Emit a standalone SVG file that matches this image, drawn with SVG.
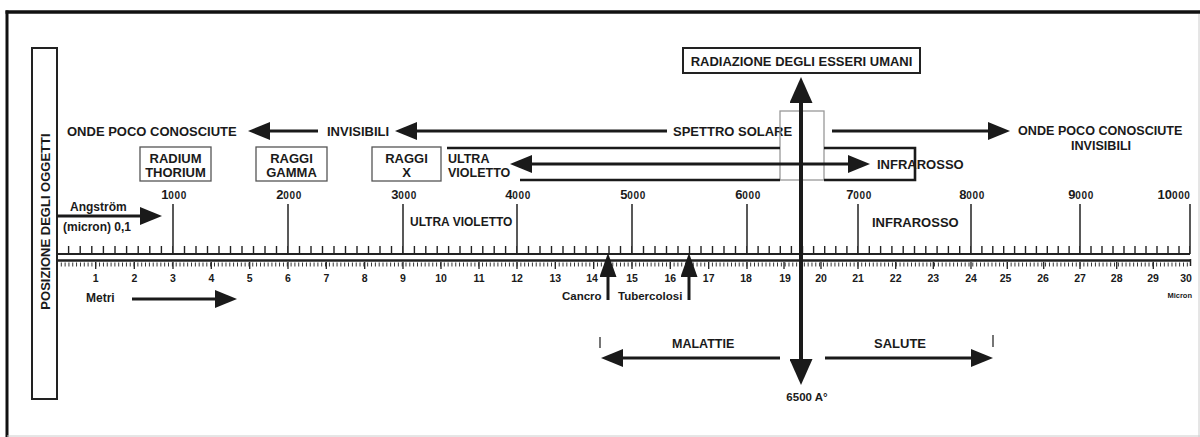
<svg xmlns="http://www.w3.org/2000/svg" width="1200" height="437" viewBox="0 0 1200 437">
<style>
text{font-family:"Liberation Sans",Arial,sans-serif;font-weight:bold;fill:#1a1a1a}
.t13{font-size:13px}
.t12{font-size:12px}
.num{font-size:10.5px;text-anchor:middle}
.big{font-size:13px;text-anchor:middle}
.c{text-anchor:middle}
.conn line,.conn path{stroke:#1a1a1a;fill:none}
.box{fill:none;stroke:#555;stroke-width:1.3}
.tick line{stroke:#222}
</style>
<defs>
<marker id="ah" markerUnits="userSpaceOnUse" markerWidth="22" markerHeight="18" refX="4" refY="9" orient="auto-start-reverse"><path d="M0,0 L22,9 L0,18 z" fill="#1a1a1a"/></marker>
<marker id="ahb" markerUnits="userSpaceOnUse" markerWidth="26" markerHeight="23" refX="4" refY="11.5" orient="auto-start-reverse"><path d="M0,0 L26,11.5 L0,23 z" fill="#1a1a1a"/></marker>
<marker id="ahs" markerUnits="userSpaceOnUse" markerWidth="24" markerHeight="17" refX="4" refY="8.5" orient="auto-start-reverse"><path d="M0,0 L24,8.5 L0,17 z" fill="#1a1a1a"/></marker>
</defs>
<rect width="1200" height="437" fill="#fff"/>
<!-- frame -->
<line x1="5.5" y1="12" x2="1200" y2="12" stroke="#111" stroke-width="3.5"/>
<line x1="7" y1="10.5" x2="7" y2="437" stroke="#111" stroke-width="3"/>
<line x1="1199" y1="14" x2="1199" y2="437" stroke="#ccc" stroke-width="1"/>
<line x1="7" y1="436" x2="1200" y2="436" stroke="#ccc" stroke-width="1"/>

<g id="posizione">
<rect x="32" y="48" width="25" height="351" fill="none" stroke="#222" stroke-width="2"/>
<text class="t13" text-anchor="middle" transform="translate(49.5,221.5) rotate(-90)">POSIZIONE DEGLI OGGETTI</text>
</g>

<!-- ruler -->
<g id="ruler" class="tick">
<line x1="57" y1="254" x2="1190" y2="254" stroke-width="1.8"/>
<line x1="57" y1="260.5" x2="1191" y2="260.5" stroke-width="2.6"/>
<line x1="1190.5" y1="259" x2="1190.5" y2="266" stroke-width="1.5"/>
<line x1="57" y1="264.5" x2="1190" y2="264.5" stroke-width="4" stroke-dasharray="0.9 2.93" stroke="#444"/>
<g stroke-width="7">
<line x1="67.9" y1="249.5" x2="173" y2="249.5" stroke-dasharray="1.4 10.2"/>
<line x1="183.8" y1="249.5" x2="288" y2="249.5" stroke-dasharray="1.4 10.1"/>
<line x1="298.8" y1="249.5" x2="403" y2="249.5" stroke-dasharray="1.4 10.1"/>
<line x1="413.7" y1="249.5" x2="517" y2="249.5" stroke-dasharray="1.4 10"/>
<line x1="527.8" y1="249.5" x2="632" y2="249.5" stroke-dasharray="1.4 10.1"/>
<line x1="642.8" y1="249.5" x2="747" y2="249.5" stroke-dasharray="1.4 10.1"/>
<line x1="757.4" y1="249.5" x2="858" y2="249.5" stroke-dasharray="1.4 9.7"/>
<line x1="868.6" y1="249.5" x2="971" y2="249.5" stroke-dasharray="1.4 9.9"/>
<line x1="981.2" y1="249.5" x2="1080" y2="249.5" stroke-dasharray="1.4 9.5"/>
<line x1="1090.3" y1="249.5" x2="1190" y2="249.5" stroke-dasharray="1.4 9.6"/>
</g>
<g stroke-width="1.5">
<line x1="173" y1="204" x2="173" y2="254"/>
<line x1="288" y1="204" x2="288" y2="254"/>
<line x1="403" y1="204" x2="403" y2="254"/>
<line x1="517" y1="204" x2="517" y2="254"/>
<line x1="632" y1="204" x2="632" y2="254"/>
<line x1="747" y1="204" x2="747" y2="254"/>
<line x1="858" y1="204" x2="858" y2="254"/>
<line x1="971" y1="204" x2="971" y2="254"/>
<line x1="1080" y1="204" x2="1080" y2="254"/>
<line x1="1190" y1="204" x2="1190" y2="254"/>
</g>
<g stroke-width="1.3">
<line x1="95.7" y1="262" x2="95.7" y2="269"/><line x1="134.3" y1="262" x2="134.3" y2="269"/><line x1="173" y1="262" x2="173" y2="269"/>
<line x1="211.3" y1="262" x2="211.3" y2="269"/><line x1="249.7" y1="262" x2="249.7" y2="269"/><line x1="288" y1="262" x2="288" y2="269"/>
<line x1="326.3" y1="262" x2="326.3" y2="269"/><line x1="364.7" y1="262" x2="364.7" y2="269"/><line x1="403" y1="262" x2="403" y2="269"/>
<line x1="441" y1="262" x2="441" y2="269"/><line x1="479" y1="262" x2="479" y2="269"/><line x1="517" y1="262" x2="517" y2="269"/>
<line x1="555.3" y1="262" x2="555.3" y2="269"/><line x1="593.7" y1="262" x2="593.7" y2="269"/><line x1="632" y1="262" x2="632" y2="269"/>
<line x1="670.3" y1="262" x2="670.3" y2="269"/><line x1="708.7" y1="262" x2="708.7" y2="269"/><line x1="747" y1="262" x2="747" y2="269"/>
<line x1="784" y1="262" x2="784" y2="269"/><line x1="821" y1="262" x2="821" y2="269"/><line x1="858" y1="262" x2="858" y2="269"/>
<line x1="895.7" y1="262" x2="895.7" y2="269"/><line x1="933.3" y1="262" x2="933.3" y2="269"/><line x1="971" y1="262" x2="971" y2="269"/>
<line x1="1007.3" y1="262" x2="1007.3" y2="269"/><line x1="1043.7" y1="262" x2="1043.7" y2="269"/><line x1="1080" y1="262" x2="1080" y2="269"/>
<line x1="1116.7" y1="262" x2="1116.7" y2="269"/><line x1="1153.3" y1="262" x2="1153.3" y2="269"/>
</g>
</g>

<g id="angstrom-scale">
<text class="big" x="174" y="199">1<tspan font-size="10" letter-spacing="0.6">000</tspan></text>
<text class="big" x="289" y="199">2<tspan font-size="10" letter-spacing="0.6">000</tspan></text>
<text class="big" x="404" y="199">3<tspan font-size="10" letter-spacing="0.6">000</tspan></text>
<text class="big" x="518" y="199">4<tspan font-size="10" letter-spacing="0.6">000</tspan></text>
<text class="big" x="633" y="199">5<tspan font-size="10" letter-spacing="0.6">000</tspan></text>
<text class="big" x="748" y="199">6<tspan font-size="10" letter-spacing="0.6">000</tspan></text>
<text class="big" x="859" y="199">7<tspan font-size="10" letter-spacing="0.6">000</tspan></text>
<text class="big" x="972" y="199">8<tspan font-size="10" letter-spacing="0.6">000</tspan></text>
<text class="big" x="1081" y="199">9<tspan font-size="10" letter-spacing="0.6">000</tspan></text>
<text class="big" x="1174" y="199">10<tspan font-size="10" letter-spacing="0.6">000</tspan></text>
</g>

<g id="metri-scale">
<text class="num" x="95.7" y="282">1</text><text class="num" x="134.3" y="282">2</text><text class="num" x="173" y="282">3</text>
<text class="num" x="211.3" y="282">4</text><text class="num" x="249.7" y="282">5</text><text class="num" x="288" y="282">6</text>
<text class="num" x="326.3" y="282">7</text><text class="num" x="364.7" y="282">8</text><text class="num" x="403" y="282">9</text>
<text class="num" x="441" y="282">10</text><text class="num" x="479" y="282">11</text><text class="num" x="517" y="282">12</text>
<text class="num" x="555.3" y="282">13</text><text class="num" x="592" y="282">14</text><text class="num" x="632" y="282">15</text>
<text class="num" x="670.3" y="282">16</text><text class="num" x="708.7" y="282">17</text><text class="num" x="746" y="282">18</text>
<text class="num" x="785" y="282">19</text><text class="num" x="821" y="282">20</text><text class="num" x="858" y="282">21</text>
<text class="num" x="895.7" y="282">22</text><text class="num" x="933.3" y="282">23</text><text class="num" x="971" y="282">24</text>
<text class="num" x="1005.5" y="282">25</text><text class="num" x="1043" y="282">26</text><text class="num" x="1080" y="282">27</text>
<text class="num" x="1116.7" y="282">28</text><text class="num" x="1153" y="282">29</text><text class="num" x="1186" y="282">30</text>
<text x="1192" y="298" font-size="7.5" text-anchor="end">Micron</text>
</g>

<g id="radiazione">
<rect x="683" y="48" width="237" height="25" fill="none" stroke="#222" stroke-width="2"/>
<text class="t13 c" x="801.5" y="66">RADIAZIONE DEGLI ESSERI UMANI</text>
</g>

<g id="onde-sx"><text class="t13" x="67" y="136">ONDE POCO CONOSCIUTE</text></g>
<g id="invisibili"><text class="t13" x="327" y="136">INVISIBILI</text></g>
<g id="spettro"><text class="t13" x="673" y="136">SPETTRO SOLARE</text></g>
<g id="onde-dx">
<text x="1018" y="135" font-size="12.6">ONDE POCO CONOSCIUTE</text>
<text class="c" x="1101" y="150" font-size="12.6">INVISIBILI</text>
</g>

<g id="radium">
<rect class="box" x="140" y="147" width="71" height="34"/>
<text class="t13 c" x="175.5" y="163">RADIUM</text>
<text class="t13 c" x="175.5" y="177">THORIUM</text>
</g>
<g id="gamma">
<rect class="box" x="256" y="147" width="71" height="34"/>
<text class="t13 c" x="291.5" y="163">RAGGI</text>
<text class="t13 c" x="291.5" y="177">GAMMA</text>
</g>
<g id="raggix">
<rect class="box" x="372" y="147" width="69" height="34"/>
<text class="t13 c" x="406.5" y="163">RAGGI</text>
<text class="t13 c" x="406.5" y="177">X</text>
</g>

<g id="uv-top">
<text x="448" y="163" font-size="12.5">ULTRA</text>
<text x="448" y="177" font-size="12.5">VIOLETTO</text>
</g>
<g id="ir-top"><text class="t13" x="877" y="169">INFRAROSSO</text></g>
<g id="visibile"><rect x="780" y="111" width="44" height="69" fill="none" stroke="#999" stroke-width="1.3"/></g>

<g id="uv-low"><text class="t12" x="410" y="226">ULTRA VIOLETTO</text></g>
<g id="ir-low"><text class="t13" x="872" y="227">INFRAROSSO</text></g>

<g id="angstrom-label">
<text class="t12" x="70" y="211">Angström</text>
<text class="t12" x="63" y="231">(micron) 0,1</text>
</g>
<g id="metri-label"><text class="t12" x="86" y="302">Metri</text></g>
<g id="cancro"><text x="562" y="300" font-size="11.5">Cancro</text></g>
<g id="tubercolosi"><text x="618" y="300" font-size="11.5">Tubercolosi</text></g>
<g id="malattie"><text x="672" y="348" font-size="12.5">MALATTIE</text></g>
<g id="salute"><text class="t13" x="874" y="348">SALUTE</text></g>
<g id="lambda"><text class="c" x="807" y="401" font-size="11.5">6500 A°</text></g>

<g id="connectors" class="conn">
<line x1="318" y1="131" x2="266" y2="131" stroke-width="3" marker-end="url(#ah)"/>
<line x1="667" y1="131" x2="413" y2="131" stroke-width="3" marker-end="url(#ah)"/>
<line x1="832" y1="131" x2="992" y2="131" stroke-width="3" marker-end="url(#ah)"/>
<line x1="528" y1="164" x2="852" y2="164" stroke-width="3" marker-start="url(#ah)" marker-end="url(#ah)"/>
<path d="M447,148 H780 M520,180 H780" stroke-width="2.6"/>
<path d="M824,148 H915 V180 H824" stroke-width="2.6"/>
<line x1="801" y1="99" x2="801" y2="363" stroke-width="4" marker-start="url(#ahb)" marker-end="url(#ahb)"/>
<line x1="57" y1="216" x2="144" y2="216" stroke-width="3" marker-end="url(#ah)"/>
<line x1="132" y1="299" x2="219" y2="299" stroke-width="3" marker-end="url(#ah)"/>
<line x1="608" y1="300" x2="608" y2="273" stroke-width="3" marker-end="url(#ahs)"/>
<line x1="689" y1="300" x2="689" y2="273" stroke-width="3" marker-end="url(#ahs)"/>
<line x1="780" y1="358" x2="619" y2="358" stroke-width="3" marker-end="url(#ah)"/>
<line x1="825" y1="358" x2="975" y2="358" stroke-width="3" marker-end="url(#ah)"/>
<line x1="600" y1="337" x2="600" y2="348" stroke="#aaa" stroke-width="1.2"/>
<line x1="993" y1="335" x2="993" y2="347" stroke="#aaa" stroke-width="1.2"/>
</g>
</svg>
